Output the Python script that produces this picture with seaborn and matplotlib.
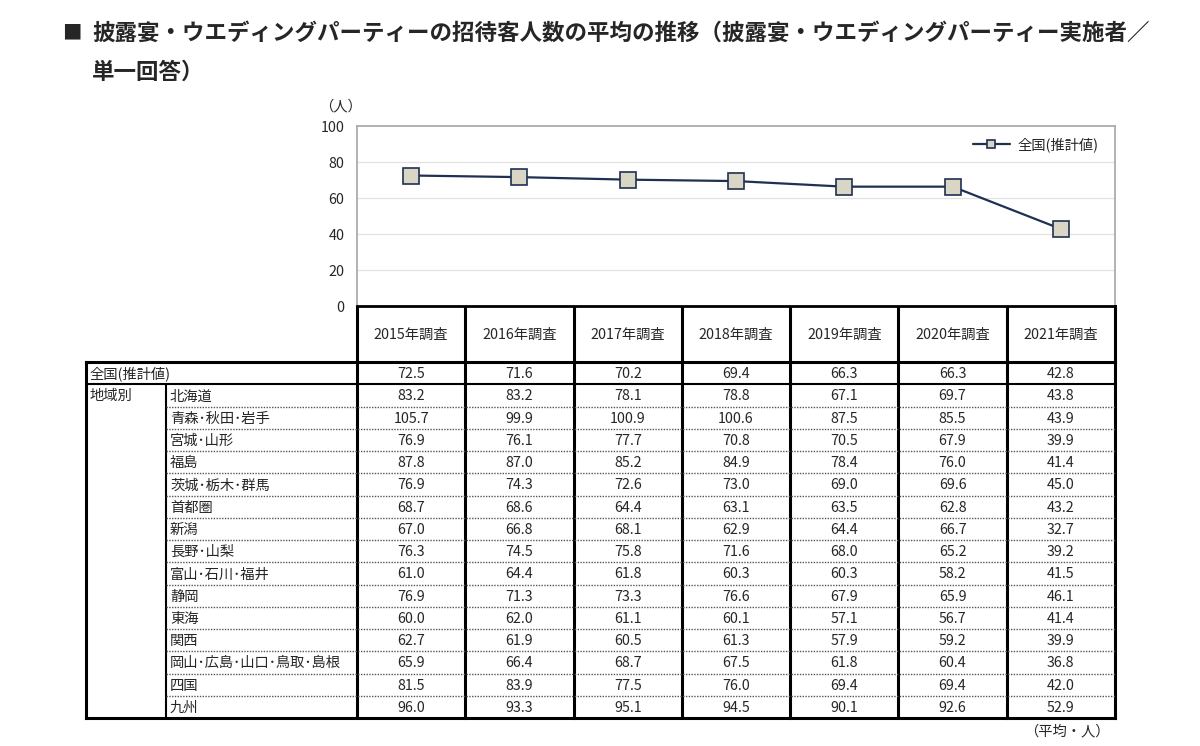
import numpy as np
import pandas as pd
import seaborn as sns
import matplotlib.pyplot as plt

# survey years (x categories)
years = ["2015年調査", "2016年調査", "2017年調査", "2018年調査",
         "2019年調査", "2020年調査", "2021年調査"]

# national average (plotted line + first table row)
national_label = "全国(推計値)"
national = [72.5, 71.6, 70.2, 69.4, 66.3, 66.3, 42.8]

# regional averages (table only)
regions = ["北海道", "青森･秋田･岩手", "宮城･山形", "福島", "茨城･栃木･群馬",
           "首都圏", "新潟", "長野･山梨", "富山･石川･福井", "静岡", "東海",
           "関西", "岡山･広島･山口･鳥取･島根", "四国", "九州"]
regional_values = [
    [83.2, 83.2, 78.1, 78.8, 67.1, 69.7, 43.8],
    [105.7, 99.9, 100.9, 100.6, 87.5, 85.5, 43.9],
    [76.9, 76.1, 77.7, 70.8, 70.5, 67.9, 39.9],
    [87.8, 87.0, 85.2, 84.9, 78.4, 76.0, 41.4],
    [76.9, 74.3, 72.6, 73.0, 69.0, 69.6, 45.0],
    [68.7, 68.6, 64.4, 63.1, 63.5, 62.8, 43.2],
    [67.0, 66.8, 68.1, 62.9, 64.4, 66.7, 32.7],
    [76.3, 74.5, 75.8, 71.6, 68.0, 65.2, 39.2],
    [61.0, 64.4, 61.8, 60.3, 60.3, 58.2, 41.5],
    [76.9, 71.3, 73.3, 76.6, 67.9, 65.9, 46.1],
    [60.0, 62.0, 61.1, 60.1, 57.1, 56.7, 41.4],
    [62.7, 61.9, 60.5, 61.3, 57.9, 59.2, 39.9],
    [65.9, 66.4, 68.7, 67.5, 61.8, 60.4, 36.8],
    [81.5, 83.9, 77.5, 76.0, 69.4, 69.4, 42.0],
    [96.0, 93.3, 95.1, 94.5, 90.1, 92.6, 52.9],
]

title1 = "披露宴・ウエディングパーティーの招待客人数の平均の推移（披露宴・ウエディングパーティー実施者／"
title2 = "単一回答）"

sns.set_style("white")
plt.rcParams['font.family'] = ['Noto Sans CJK JP', 'DejaVu Sans']

W, H = 1200, 746
fig = plt.figure(figsize=(12, 7.46), dpi=100)

# background axes in pixel coordinates for title + table
bg = fig.add_axes([0, 0, 1, 1])
bg.set_xlim(0, W)
bg.set_ylim(H, 0)
bg.axis("off")

# layout (pixels)
x_left, x_sub, x_val, x_right = 86, 166, 357, 1115
y_plot_top, y_head, y_body, y_bottom = 126, 306, 362, 718
n_cols = len(years)
col_w = (x_right - x_val) / n_cols
n_rows = 1 + len(regions)
row_h = (y_bottom - y_body) / n_rows
fs = 10.3

# ---- line chart ----
ax = fig.add_axes([x_val / W, 1 - y_head / H, (x_right - x_val) / W, (y_head - y_plot_top) / H])
df = pd.DataFrame({"x": np.arange(n_cols), "value": national, "series": national_label})
sns.lineplot(data=df, x="x", y="value", hue="series", palette=["#1f3052"], marker="s",
             markersize=11, markerfacecolor="#d9d6c6", markeredgecolor="#1f3052",
             markeredgewidth=1.2, linewidth=1.6, ax=ax)
ax.set_xlim(-0.5, n_cols - 0.5)
ax.set_ylim(0, 100)
ax.set_yticks([0, 20, 40, 60, 80, 100])
ax.set_xticks(np.arange(n_cols + 1) - 0.5)
ax.set_xticklabels([])
ax.tick_params(axis="x", direction="in", length=4, color="#b0b0b0", width=1)
ax.tick_params(axis="y", length=0, pad=9, labelsize=10.3)
ax.set_xlabel("")
ax.set_ylabel("")
for y in [20, 40, 60, 80]:
    ax.axhline(y, color="#e2e2e2", lw=0.9, zorder=0)
for s in ["top", "right", "left"]:
    ax.spines[s].set_color("#a6a6a6")
    ax.spines[s].set_linewidth(1.2)
ax.spines["bottom"].set_color("black")
ax.spines["bottom"].set_linewidth(2)
leg = ax.legend(loc="upper right", bbox_to_anchor=(0.995, 1.01), frameon=False,
                fontsize=fs, markerscale=0.5, handlelength=2.6, handletextpad=0.5)
ax.text(-0.022, 1.07, "（人）", transform=ax.transAxes, ha="center", va="bottom", fontsize=fs)

# ---- title ----
bg.text(62, 33, "■", fontsize=14, fontweight="bold", va="center", ha="left")
bg.text(92, 33, title1, fontsize=16.2, fontweight="bold", va="center", ha="left")
bg.text(92, 72, title2, fontsize=16.2, fontweight="bold", va="center", ha="left")

# ---- table ----
lw = 2.2
kw = dict(color="black", lw=lw, solid_capstyle="projecting")
# header column labels
for i, yr in enumerate(years):
    bg.text(x_val + (i + 0.5) * col_w, (y_head + y_body) / 2 + 1, yr,
            ha="center", va="center", fontsize=fs)
# vertical column lines
for i in range(n_cols + 1):
    xx = x_val + i * col_w
    bg.plot([xx, xx], [y_head, y_bottom], **kw)
bg.plot([x_left, x_left], [y_body, y_bottom], **kw)
bg.plot([x_sub, x_sub], [y_body + row_h, y_bottom], color="black", lw=1.5)
# horizontal solid lines
bg.plot([x_left, x_right], [y_body, y_body], **kw)
bg.plot([x_left, x_right], [y_body + row_h, y_body + row_h], color="black", lw=1.5)
bg.plot([x_left, x_right], [y_bottom, y_bottom], **kw)
# dotted lines between regions
for r in range(2, n_rows):
    yy = y_body + r * row_h
    bg.plot([x_sub, x_right], [yy, yy], color="#555555", lw=1.0, ls=(0, (1, 1)))

# rows
all_labels = [national_label] + regions
all_values = [national] + regional_values
for r, (lab, vals) in enumerate(zip(all_labels, all_values)):
    yc = y_body + (r + 0.5) * row_h + 1
    if r == 0:
        bg.text(x_left + 4, yc, lab, ha="left", va="center", fontsize=fs)
    else:
        bg.text(x_sub + 4, yc, lab, ha="left", va="center", fontsize=fs)
    for i, v in enumerate(vals):
        bg.text(x_val + (i + 0.5) * col_w, yc, f"{v:.1f}", ha="center", va="center", fontsize=fs)
bg.text(x_left + 4, y_body + 1.5 * row_h + 1, "地域別", ha="left", va="center", fontsize=fs)

bg.text(x_right - 5, 731, "（平均・人）", ha="right", va="center", fontsize=fs)

plt.savefig("out.png", dpi=100)
